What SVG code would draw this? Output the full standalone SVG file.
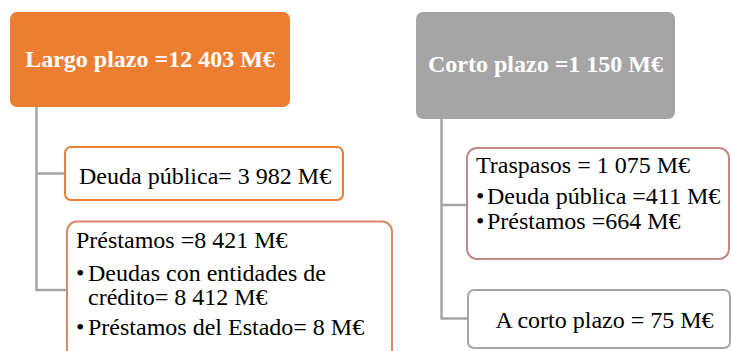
<svg xmlns="http://www.w3.org/2000/svg" width="731" height="351" viewBox="0 0 731 351">
<style>
.t{font-family:"Liberation Serif","Times New Roman",serif;font-size:24px;fill:#000}
.h{font-family:"Liberation Serif","Times New Roman",serif;font-size:24px;font-weight:bold;fill:#fff}
.conn{fill:none;stroke:#A5A5A5;stroke-width:2.5}
.box{fill:#fff;stroke-width:2}
</style>
<rect width="731" height="351" fill="#fff"/>
<g id="connectors">
<path class="conn" d="M36.5,107 V290 H67 M36.5,173.5 H65"/>
<path class="conn" d="M441.5,119 V318.5 H468 M441.5,205 H467"/>
</g>
<g id="largo">
<rect x="10" y="12" width="280" height="95" rx="7" fill="#ED7D31"/>
<text class="h" x="150" y="67" text-anchor="middle">Largo plazo =12 403 M€</text>
</g>
<g id="corto">
<rect x="416" y="12" width="259" height="107" rx="7" fill="#A5A5A5"/>
<text class="h" x="545.5" y="72" text-anchor="middle">Corto plazo =1 150 M€</text>
</g>
<g id="deuda">
<rect class="box" x="65" y="147" width="278" height="53" rx="6" stroke="#ED7D31"/>
<text class="t" x="79" y="184">Deuda pública= 3 982 M€</text>
</g>
<g id="prestamos">
<rect class="box" x="67" y="221.5" width="325" height="140" rx="10" stroke="#D9886A"/>
<text class="t" x="76" y="248">Préstamos =8 421 M€</text>
<text class="t" x="76" y="281">•<tspan x="88">Deudas con entidades de</tspan></text>
<text class="t" x="88" y="305">crédito= 8 412 M€</text>
<text class="t" x="76" y="335">•<tspan x="88">Préstamos del Estado= 8 M€</tspan></text>
</g>
<g id="traspasos">
<rect class="box" x="467" y="148" width="262" height="111" rx="10" stroke="#C08A85"/>
<text class="t" x="476" y="173">Traspasos = 1 075 M€</text>
<text class="t" x="476" y="204">•<tspan x="487">Deuda pública =411 M€</tspan></text>
<text class="t" x="476" y="229">•<tspan x="487">Préstamos =664 M€</tspan></text>
</g>
<g id="acorto">
<rect class="box" x="468" y="290" width="262" height="58" rx="6" stroke="#A5A5A5"/>
<text class="t" x="604.5" y="328" text-anchor="middle">A corto plazo = 75 M€</text>
</g>
</svg>
